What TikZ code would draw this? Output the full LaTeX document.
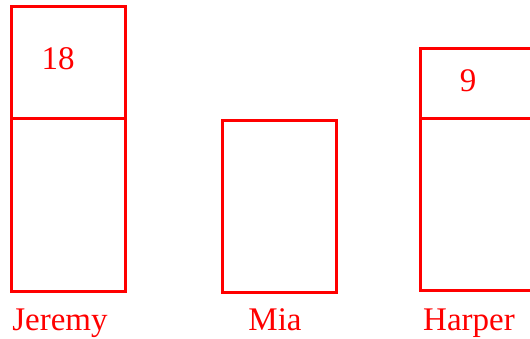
\documentclass[tikz,border=0pt]{standalone}
\usepackage{fontspec}
\setmainfont{Liberation Serif}
\begin{document}
\begin{tikzpicture}[x=1pt,y=-1pt,
  bar/.style={draw=red, line width=3pt, rectangle, inner sep=0pt},
  lbl/.style={text=red, font=\fontsize{33}{36}\selectfont, anchor=base, inner sep=0pt}]
\useasboundingbox (0,0) rectangle (530,339);
% Jeremy
\node[bar, minimum width=114pt, minimum height=112pt] (jtop) at (68,63) {};
\node[bar, minimum width=114pt, minimum height=172pt] (jbot) at (68,205) {};
% Mia
\node[bar, minimum width=114pt, minimum height=171pt] (mbot) at (279,206.5) {};
% Harper
\node[bar, minimum width=114pt, minimum height=70pt] (htop) at (477,84) {};
\node[bar, minimum width=114pt, minimum height=171pt] (hbot) at (477,204.5) {};
% values
\node[lbl] (v18) at (58,70) {18};
\node[lbl] (v9) at (468,92) {9};
% names
\node[lbl] (nj) at (60,330) {Jeremy};
\node[lbl] (nm) at (275,330) {Mia};
\node[lbl] (nh) at (469,330) {Harper};
\end{tikzpicture}
\end{document}
